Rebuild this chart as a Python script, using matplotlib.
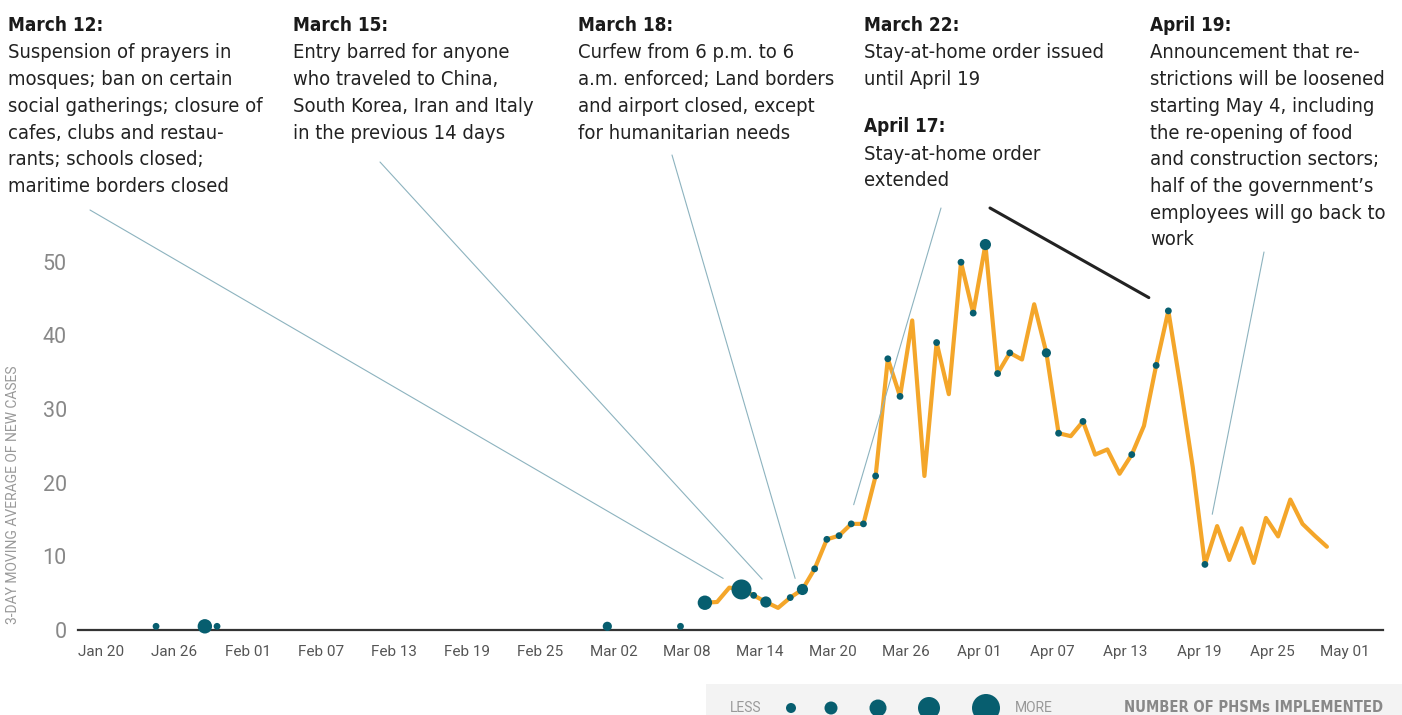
import os
import numpy as np
import matplotlib
matplotlib.use("Agg")
import matplotlib.pyplot as plt
import matplotlib.dates as mdates
from matplotlib import font_manager as fm
from matplotlib.font_manager import FontProperties

# 3-day moving average of new cases, one value per day from Mar 10 to Apr 30
line_start = "2020-03-10"
cases = [3.7, 3.8, 5.75, 5.5, 4.7, 3.8, 3.0, 4.4, 5.5, 8.3,
         12.3, 12.8, 14.4, 14.4, 20.9, 36.8, 31.7, 42.0, 20.9, 39.0,
         32.0, 49.9, 43.0, 52.3, 34.8, 37.6, 36.7, 44.2, 37.6, 26.7,
         26.3, 28.3, 23.8, 24.5, 21.2, 23.8, 27.7, 35.9, 43.3, 33.0,
         22.1, 8.9, 14.1, 9.5, 13.8, 9.1, 15.2, 12.7, 17.7, 14.4,
         12.8, 11.3]

# days on which public health and social measures (PHSMs) were implemented
phsm_dates = ["2020-01-25", "2020-01-29", "2020-01-30", "2020-03-02", "2020-03-08",
              "2020-03-10", "2020-03-13", "2020-03-14", "2020-03-15", "2020-03-17",
              "2020-03-18", "2020-03-19", "2020-03-20", "2020-03-21", "2020-03-22",
              "2020-03-23", "2020-03-24", "2020-03-25", "2020-03-26", "2020-03-29",
              "2020-03-31", "2020-04-01", "2020-04-02", "2020-04-03", "2020-04-04",
              "2020-04-07", "2020-04-08", "2020-04-10", "2020-04-14", "2020-04-16",
              "2020-04-17", "2020-04-20"]
phsm_values = [0.5, 0.5, 0.5, 0.5, 0.5,
               3.7, 5.5, 4.7, 3.8, 4.4,
               5.5, 8.3, 12.3, 12.8, 14.4,
               14.4, 20.9, 36.8, 31.7, 39.0,
               49.9, 43.0, 52.3, 34.8, 37.6,
               37.6, 26.7, 28.3, 23.8, 35.9,
               43.3, 8.9]
phsm_levels = [1, 4, 1, 2, 1,
               4, 5, 1, 3, 1,
               3, 1, 1, 1, 1,
               1, 1, 1, 1, 1,
               1, 1, 3, 1, 1,
               2, 1, 1, 1, 1,
               1, 1]

tick_start = "2020-01-20"
tick_count = 18
y_ticks = [0, 10, 20, 30, 40, 50]

events = [
    ("March 12:", ["Suspension of prayers in", "mosques; ban on certain",
                   "social gatherings; closure of", "cafes, clubs and restau-",
                   "rants; schools closed;", "maritime borders closed"]),
    ("March 15:", ["Entry barred for anyone", "who traveled to China,",
                   "South Korea, Iran and Italy", "in the previous 14 days"]),
    ("March 18:", ["Curfew from 6 p.m. to 6", "a.m. enforced; Land borders",
                   "and airport closed, except", "for humanitarian needs"]),
    ("March 22:", ["Stay-at-home order issued", "until April 19"]),
    ("April 17:", ["Stay-at-home order", "extended"]),
    ("April 19:", ["Announcement that re-", "strictions will be loosened",
                   "starting May 4, including", "the re-opening of food",
                   "and construction sectors;", "half of the government\u2019s",
                   "employees will go back to", "work"]),
]
# where each block sits (px from left, header baseline px from top)
event_pos = [(8, 31), (293, 31), (578, 31), (864, 31), (864, 132), (1150, 31)]

# leader lines: start in figure px (from top), end as (date, value)
leaders = [((90, 210), "2020-03-11", 0.5, 7.0, "#8db3bf"),
           ((380, 162), "2020-03-14", 0.7, 6.9, "#8db3bf"),
           ((672, 155), "2020-03-17", 0.4, 7.0, "#8db3bf"),
           ((941, 208), "2020-03-22", 0.2, 17.0, "#8db3bf"),
           ((1264, 252), "2020-04-20", 0.6, 15.7, "#8db3bf"),
           ((990, 208), "2020-04-15", 0.4, 45.1, "#222222")]

W, H = 1402, 715
ORANGE = "#f4a62a"
TEAL = "#075e6f"
chart_r = [3.4, 4.6, 5.6, 7.2, 10.0]
legend_r = [5.0, 6.5, 8.5, 11.0, 14.0]


# the original uses a condensed grotesque; take the narrowest one we have
def pick_font(files, weight):
    have = {os.path.basename(f.fname): f.fname for f in fm.fontManager.ttflist}
    for name in files:
        if name in have:
            return FontProperties(fname=have[name])
    return FontProperties(family="Roboto", weight=weight)


body_fp = pick_font(["LiberationSansNarrow-Regular.ttf", "NotoSans-Condensed.ttf",
                     "NotoSans-SemiCondensed.ttf", "DejaVuSansCondensed.ttf"], "normal")
bold_fp = pick_font(["LiberationSansNarrow-Bold.ttf", "NotoSans-CondensedBold.ttf",
                     "NotoSans-SemiCondensedBold.ttf", "DejaVuSansCondensed-Bold.ttf"], "bold")

fig = plt.figure(figsize=(W / 100, H / 100), dpi=100)
renderer = fig.canvas.get_renderer()


def sized(fp, sample, target_px):
    # font size that makes `sample` as wide as it is in the reference
    f = fp.copy()
    f.set_size(17)
    t = fig.text(0, 0, sample, fontproperties=f)
    w = t.get_window_extent(renderer).width
    t.remove()
    f.set_size(17 * target_px / w)
    return f


body_font = sized(body_fp, "Suspension of prayers in", 223)
head_font = sized(bold_fp, "March 12:", 95)
key_font = sized(bold_fp, "NUMBER OF PHSMs IMPLEMENTED", 258)

ax = fig.add_axes([78 / W, (H - 630) / H, (1383 - 78) / W, 60 * 7.37 / H])

x_line = mdates.date2num(np.datetime64(line_start) + np.arange(len(cases)))
ax.plot(x_line, cases, color=ORANGE, lw=3, solid_joinstyle="round",
        solid_capstyle="round", zorder=2)

x_pts = mdates.date2num(np.array(phsm_dates, dtype="datetime64[D]"))
sizes = [(2 * chart_r[l - 1] * 0.72) ** 2 for l in phsm_levels]
ax.scatter(x_pts, phsm_values, s=sizes, color=TEAL, lw=0, zorder=3, clip_on=False)

t0 = mdates.date2num(np.datetime64(tick_start))
ax.set_xlim(t0 - 1.4, t0 + 105.6)
ax.set_ylim(0, 60)

tick_days = np.datetime64(tick_start) + np.arange(tick_count) * 6
ax.set_xticks(mdates.date2num(tick_days) + 0.5)
ax.set_xticklabels([d.astype(object).strftime("%b %d") for d in tick_days],
                   fontsize=11, color="#555555", family="Roboto")
ax.set_yticks(y_ticks)
ax.set_yticklabels([str(v) for v in y_ticks], fontsize=15.5, color="#888888",
                   family="Roboto")
ax.tick_params(axis="x", length=0, pad=11)
ax.tick_params(axis="y", length=0, pad=8)
for s in ["top", "right", "left"]:
    ax.spines[s].set_visible(False)
ax.spines["bottom"].set_color("#333333")
ax.spines["bottom"].set_linewidth(1.6)
ax.patch.set_alpha(0)

fig.text(13.5 / W, 1 - 495 / H, "3-DAY MOVING AVERAGE OF NEW CASES", rotation=90,
         ha="center", va="center", fontsize=10, color="#999999", family="Roboto")

# annotation text blocks
for (head, body), (px, py) in zip(events, event_pos):
    fig.text(px / W, 1 - py / H, head, fontproperties=head_font,
             color="#1a1a1a", va="baseline")
    for i, line in enumerate(body):
        fig.text(px / W, 1 - (py + 27.5 + i * 26.7) / H, line,
                 fontproperties=body_font, color="#222222", va="baseline")

for (sx, sy), d, frac, val, col in leaders:
    xe = mdates.date2num(np.datetime64(d)) + frac
    lw = 2.2 if col == "#222222" else 0.8
    ax.annotate("", xy=(xe, val), xycoords="data",
                xytext=(sx, H - sy), textcoords="figure pixels",
                arrowprops=dict(arrowstyle="-", color=col, lw=lw,
                                shrinkA=0, shrinkB=0), annotation_clip=False)

# size legend at the bottom right
lg = fig.add_axes([706 / W, 0, (W - 706) / W, 31 / H])
lg.set_xlim(0, W - 706)
lg.set_ylim(0, 31)
lg.axis("off")
lg.add_patch(plt.Rectangle((0, 0), W - 706, 31, color="#f3f3f3", zorder=0))
legend_x = [85, 125, 172, 223, 280]
lg.scatter(legend_x, [7] * 5, s=[(2 * r * 0.72) ** 2 for r in legend_r],
           color=TEAL, lw=0, clip_on=False, zorder=2)
lg.text(24, 7, "LESS", fontsize=10, color="#999999", family="Roboto", va="center")
lg.text(309, 7, "MORE", fontsize=10, color="#999999", family="Roboto", va="center")
lg.text(677, 7, "NUMBER OF PHSMs IMPLEMENTED", fontproperties=key_font,
        color="#888888", va="center", ha="right")

fig.savefig("out.png", dpi=100)
